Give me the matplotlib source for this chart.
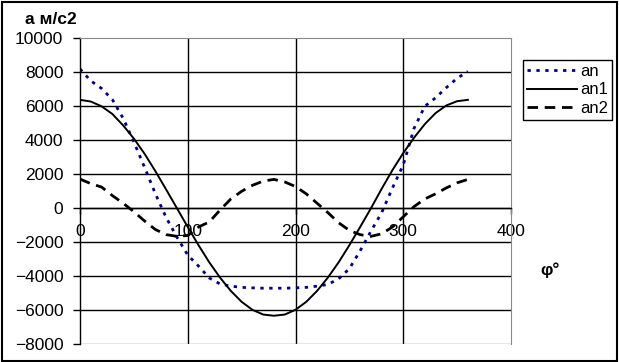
import numpy as np
import matplotlib.pyplot as plt
from matplotlib.patches import Rectangle

# angle, degrees
phi = [0, 10, 20, 30, 40, 50, 60, 70, 80, 90, 100, 110, 120, 130, 140, 150, 160, 170, 180,
       190, 200, 210, 220, 230, 240, 250, 260, 270, 280, 290, 300, 310, 320, 330, 340, 350, 360]

an = [8200, 7500, 7050, 6400, 5300, 3900, 2400, 850, -550, -1700, -2750, -3400, -4100, -4450,
      -4580, -4650, -4680, -4700, -4700, -4700, -4680, -4650, -4580, -4480, -4150, -3550, -2500,
      -1350, -250, 1200, 2550, 4700, 6000, 6500, 7100, 7650, 8050]

an1 = [6380, 6280, 6000, 5550, 4880, 4100, 3200, 2180, 1100, 0, -1100, -2170, -3180, -4080,
       -4860, -5500, -5970, -6250, -6320, -6250, -5970, -5500, -4860, -4080, -3180, -2170, -1100,
       0, 1150, 2250, 3250, 4150, 4950, 5600, 6050, 6300, 6380]

an2 = [1720, 1450, 1250, 750, 300, -200, -750, -1250, -1550, -1650, -1600, -1100, -800, -100,
       550, 1000, 1350, 1600, 1700, 1550, 1280, 850, 300, -250, -850, -1300, -1550, -1650, -1500,
       -1100, -500, 100, 550, 850, 1200, 1500, 1700]

y_ticks = list(range(-8000, 10001, 2000))
x_ticks = [0, 100, 200, 300, 400]

plt.rcParams['font.family'] = ['Liberation Sans', 'DejaVu Sans']

fig = plt.figure(figsize=(6.19, 3.62), dpi=100)
ax = fig.add_axes([80 / 619, 1 - 344.3 / 362, 431 / 619, 306 / 362])

ax.plot(phi, an, color='#000080', linestyle=(0, (1.2, 2.0)), linewidth=2.0, label='an')
ax.plot(phi, an1, color='black', linestyle='-', linewidth=1.4, label='an1')
ax.plot(phi, an2, color='black', linestyle=(0, (3.8, 2.4)), linewidth=2.0, label='an2')

ax.set_xlim(0, 400)
ax.set_ylim(-8000, 10000)
ax.set_yticks(y_ticks)
ax.set_xticks(x_ticks)

# grid: horizontal and vertical lines
for y in y_ticks[1:-1]:
    ax.axhline(y, color='black', linewidth=1.0, zorder=0)
for x in x_ticks[1:-1]:
    ax.axvline(x, color='black', linewidth=1.0, zorder=0)

ax.spines['bottom'].set_position(('data', 0))
ax.spines['bottom'].set_linewidth(1.0)
ax.spines['left'].set_linewidth(1.0)
ax.spines['top'].set_color('#888888')
ax.spines['right'].set_color('#888888')
ax.axhline(-8000, color='#888888', linewidth=1.0, zorder=0)

ax.tick_params(axis='y', direction='out', length=5, width=1, pad=7, labelsize=12.5)
ax.tick_params(axis='x', direction='out', length=4, width=1, pad=7, labelsize=12.5)

fig.text(25 / 619, 1 - 20 / 362, 'а м/с2', fontsize=12.5, fontweight='bold', va='center', ha='left')
fig.text(540 / 619, 1 - 270 / 362, 'φ°', fontsize=12.5, fontweight='bold', va='center', ha='left')

leg = ax.legend(loc='upper left', bbox_to_anchor=(522.7 / 619, 1 - 60 / 362),
                bbox_transform=fig.transFigure, frameon=True, fancybox=False,
                edgecolor='black', framealpha=1, fontsize=12, handlelength=3.0,
                handletextpad=0.2, borderpad=0.25, labelspacing=0.2, borderaxespad=0)
leg.get_frame().set_linewidth(1.0)

# outer frame
fig.patches.append(Rectangle((1.5 / 619, 1.5 / 362), 615.5 / 619, 358.5 / 362,
                             transform=fig.transFigure, fill=False,
                             edgecolor='black', linewidth=1.5))

fig.savefig('out.png', dpi=100)
